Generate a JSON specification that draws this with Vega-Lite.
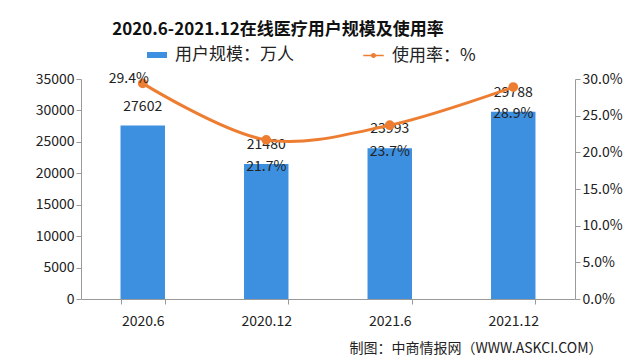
{
  "$schema": "https://vega.github.io/schema/vega-lite/v6.json",
  "autosize": {"type": "none"},
  "padding": {"left": 81, "top": 79, "right": 65, "bottom": 65},
  "width": 494,
  "height": 220,
  "background": "white",
  "config": {
    "font": "Noto Sans CJK SC",
    "view": {"stroke": null},
    "axis": {"labelFont": "Noto Sans CJK SC", "labelFontSize": 13, "labelColor": "#222", "domainColor": "#9a9a9a", "tickColor": "#9a9a9a", "tickSize": 5, "grid": false}
  },
  "title": {
    "text": "2020.6-2021.12在线医疗用户规模及使用率",
    "frame": "group",
    "anchor": "middle",
    "dx": -50,
    "fontSize": 17,
    "fontWeight": "bold",
    "color": "#111",
    "offset": 6
  },
  "data": {
    "values": [
      {"period": "2020.6", "users": 27602, "rate": 0.294},
      {"period": "2020.12", "users": 21480, "rate": 0.217},
      {"period": "2021.6", "users": 23993, "rate": 0.237},
      {"period": "2021.12", "users": 29788, "rate": 0.289}
    ]
  },
  "encoding": {
    "x": {
      "field": "period",
      "type": "nominal",
      "sort": null,
      "scale": {"paddingInner": 0.64, "paddingOuter": 0.32},
      "axis": {
        "labelAngle": 0,
        "labelPadding": 10,
        "labelFontSize": 14,
        "tickBand": "extent",
        "title": "制图：中商情报网（WWW.ASKCI.COM）",
        "titleFontSize": 14,
        "titleFontWeight": "normal",
        "titleColor": "#222",
        "titleAnchor": "end",
        "titleAlign": "right",
        "titleBaseline": "middle",
        "titleX": 521,
        "titleY": 49
      }
    }
  },
  "layer": [
    {
      "encoding": {
        "y": {"field": "users", "type": "quantitative", "scale": {"domain": [0, 35000]}, "axis": {"orient": "left", "title": null, "format": "d", "values": [0, 5000, 10000, 15000, 20000, 25000, 30000, 35000], "labelFontSize": 14}}
      },
      "layer": [
        {
          "mark": {"type": "bar"},
          "encoding": {
            "fill": {"datum": "用户规模：万人", "type": "nominal", "scale": {"range": ["#3D8FE0"]}, "legend": {"orient": "none", "legendX": 66, "legendY": -34, "title": null, "labelFontSize": 17, "labelColor": "#222", "symbolType": "M-1,-0.3H1V0.3H-1Z", "symbolSize": 400, "symbolStrokeWidth": 0, "labelOffset": 8}}
          }
        },
        {
          "mark": {"type": "text", "dy": -19, "fontSize": 14, "color": "#222"},
          "encoding": {
            "text": {"field": "users", "type": "quantitative", "format": "d"}
          }
        }
      ]
    },
    {
      "encoding": {
        "y": {"field": "rate", "type": "quantitative", "scale": {"domain": [0, 0.3]}, "axis": {"orient": "right", "title": null, "format": ".1%", "values": [0, 0.05, 0.1, 0.15, 0.2, 0.25, 0.3], "labelFontSize": 14}}
      },
      "layer": [
        {
          "mark": {"type": "line", "interpolate": "catmull-rom", "strokeWidth": 3, "point": {"filled": true, "size": 60, "color": "#ED7D31"}},
          "encoding": {
            "stroke": {"datum": "使用率：%", "type": "nominal", "scale": {"range": ["#ED7D31"]}, "legend": {"orient": "none", "legendX": 282, "legendY": -34, "title": null, "labelFontSize": 17, "labelColor": "#222", "symbolType": "M-1,-0.08H1V0.08H-1Z M0.25,0A0.25,0.25 0 1 1 -0.25,0A0.25,0.25 0 1 1 0.25,0Z", "symbolSize": 420, "symbolFillColor": "#ED7D31", "symbolStrokeWidth": 0, "labelOffset": 8}}
          }
        },
        {
          "transform": [{"filter": "datum.period == '2020.6'"}],
          "mark": {"type": "text", "dx": -14, "dy": -4, "fontSize": 14, "color": "#222"},
          "encoding": {
            "text": {"field": "rate", "type": "quantitative", "format": ".1%"}
          }
        },
        {
          "transform": [{"filter": "datum.period != '2020.6'"}],
          "mark": {"type": "text", "dy": 27, "fontSize": 14, "color": "#222"},
          "encoding": {
            "text": {"field": "rate", "type": "quantitative", "format": ".1%"}
          }
        }
      ]
    }
  ],
  "resolve": {"scale": {"y": "independent"}}
}
